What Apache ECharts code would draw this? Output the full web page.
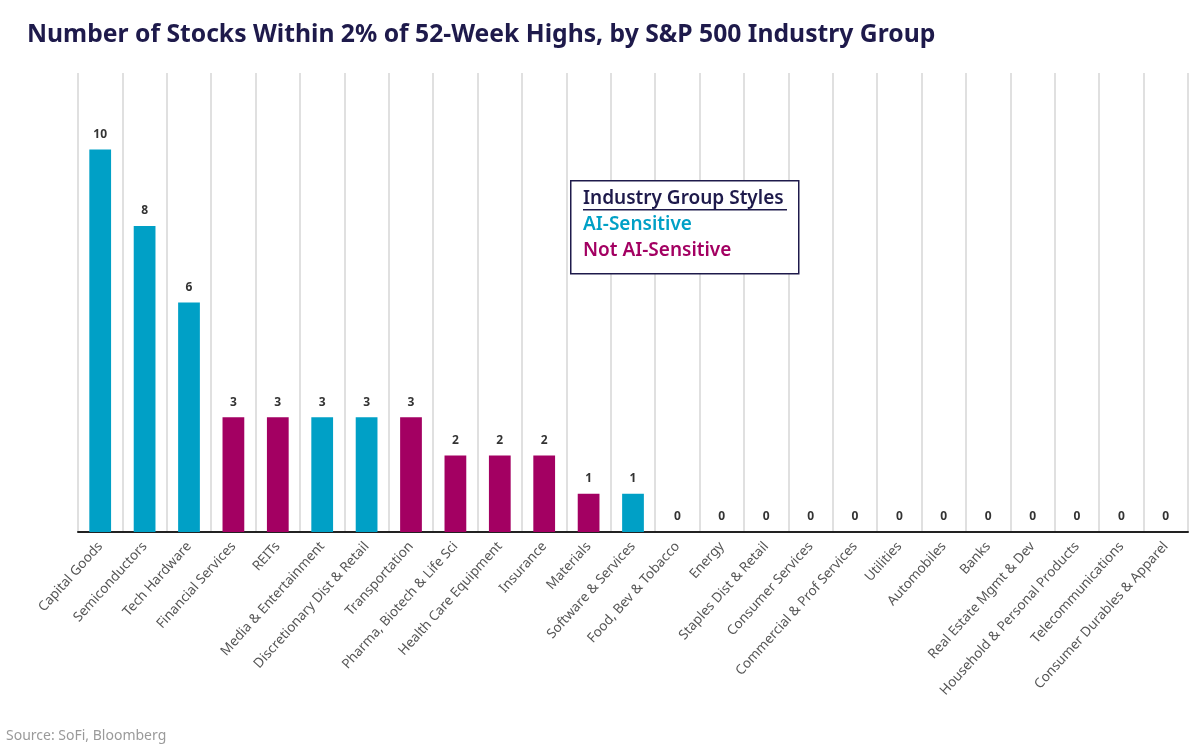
<!DOCTYPE html>
<html>
<head>
<meta charset="utf-8">
<script src="https://cdn.jsdelivr.net/npm/echarts@6/dist/echarts.min.js"></script>
<style>
  html, body { margin: 0; padding: 0; background: #fff; }
  #chart { width: 1200px; height: 750px; }
</style>
</head>
<body>
<div id="chart"></div>
<script>
// industry groups, left to right
var categories = [
  'Capital Goods', 'Semiconductors', 'Tech Hardware', 'Financial Services', 'REITs',
  'Media & Entertainment', 'Discretionary Dist & Retail', 'Transportation',
  'Pharma, Biotech & Life Sci', 'Health Care Equipment', 'Insurance', 'Materials',
  'Software & Services', 'Food, Bev & Tobacco', 'Energy', 'Staples Dist & Retail',
  'Consumer Services', 'Commercial & Prof Services', 'Utilities', 'Automobiles',
  'Banks', 'Real Estate Mgmt & Dev', 'Household & Personal Products',
  'Telecommunications', 'Consumer Durables & Apparel'
];
// stocks within 2% of 52-week highs
var counts = [10, 8, 6, 3, 3, 3, 3, 3, 2, 2, 2, 1, 1, 0, 0, 0, 0, 0, 0, 0, 0, 0, 0, 0, 0];
// 1 = AI-sensitive, 0 = not
var aiFlags = [1, 1, 1, 0, 0, 1, 1, 0, 0, 0, 0, 0, 1, 0, 0, 0, 0, 0, 0, 0, 0, 0, 0, 0, 0];

var TEAL = '#00A0C6';
var MAGENTA = '#A30062';
var NAVY = '#1E1A4B';
var FONT = '"Noto Sans", sans-serif';

var chart = echarts.init(document.getElementById('chart'));

var barData = counts.map(function(v, i) {
  return { value: v, itemStyle: { color: aiFlags[i] ? TEAL : MAGENTA } };
});

chart.setOption({
  animation: false,
  title: {
    text: 'Number of Stocks Within 2% of 52-Week Highs, by S&P 500 Industry Group',
    left: 22,
    top: 17,
    textStyle: {
      fontFamily: FONT,
      fontWeight: 'bold',
      fontSize: 24.7,
      color: NAVY
    }
  },
  grid: {
    left: 78,
    right: 12,
    top: 73,
    bottom: 218,
    containLabel: false
  },
  xAxis: {
    type: 'category',
    data: categories,
    axisLine: { lineStyle: { color: '#222', width: 2 } },
    axisTick: { show: false },
    splitLine: { show: true, lineStyle: { color: '#d6d6d6', width: 1.5 } },
    axisLabel: {
      interval: 0,
      rotate: 48,
      margin: 12,
      fontFamily: FONT,
      fontSize: 13.5,
      color: '#555'
    }
  },
  yAxis: {
    type: 'value',
    min: 0,
    max: 12,
    show: false,
    splitLine: { show: false }
  },
  series: [{
    type: 'bar',
    data: barData,
    barWidth: '49%',
    label: {
      show: true,
      position: 'top',
      distance: 9,
      fontFamily: FONT,
      fontWeight: 'bold',
      fontSize: 12,
      color: '#333'
    }
  }],
  graphic: [
    {
      type: 'rect',
      left: 570,
      top: 180,
      shape: { width: 228, height: 93 },
      style: { fill: '#fff', stroke: NAVY, lineWidth: 1.5 },
      z: 100
    },
    {
      type: 'text',
      left: 583,
      top: 189,
      style: { text: 'Industry Group Styles', fill: NAVY, font: '600 19px "Noto Sans"' },
      z: 101
    },
    {
      type: 'rect',
      left: 583,
      top: 209,
      shape: { width: 204, height: 1.5 },
      style: { fill: NAVY },
      z: 101
    },
    {
      type: 'text',
      left: 583,
      top: 215,
      style: { text: 'AI-Sensitive', fill: TEAL, font: '600 19px "Noto Sans"' },
      z: 101
    },
    {
      type: 'text',
      left: 583,
      top: 241,
      style: { text: 'Not AI-Sensitive', fill: MAGENTA, font: '600 19px "Noto Sans"' },
      z: 101
    },
    {
      type: 'text',
      left: 6,
      top: 729,
      style: { text: 'Source: SoFi, Bloomberg', fill: '#9a9a9a', font: '14px "Noto Sans"' }
    }
  ]
});
</script>
</body>
</html>
